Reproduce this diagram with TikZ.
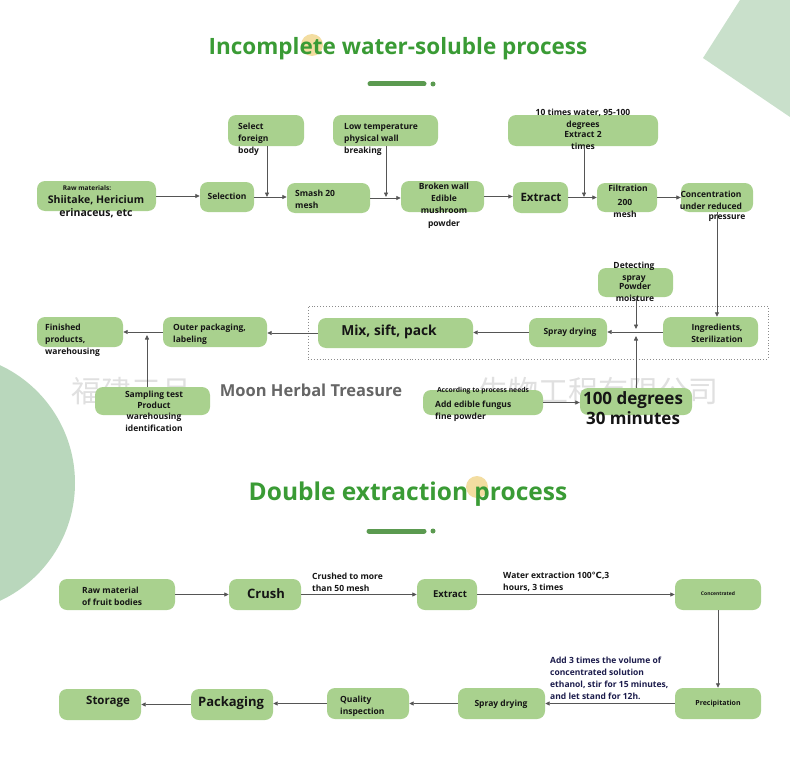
\documentclass[tikz,border=0pt]{standalone}
\usepackage{fontspec}
\setmainfont{Open Sans}
\newfontfamily\cjkfont{Noto Sans CJK SC}
\newfontfamily\symfont{DejaVu Sans}
\usetikzlibrary{arrows.meta}
\definecolor{boxgreen}{HTML}{A9D18E}
\definecolor{titlegreen}{HTML}{3A9B35}
\definecolor{bargreen}{HTML}{5B9A50}
\definecolor{sagelight}{HTML}{C9E0CB}
\definecolor{sagedark}{HTML}{B9D7BC}
\definecolor{sunyellow}{HTML}{F0D48A}
\definecolor{linegray}{HTML}{555555}
\definecolor{inkblack}{HTML}{151515}
\definecolor{inknavy}{HTML}{1C1C4C}
\begin{document}
\begin{tikzpicture}[
  x=1pt, y=-1pt,
  step_box/.style={
    fill=boxgreen,
    rounded corners=8pt,
    inner sep=0pt
  },
  step_text/.style={
    inner sep=0pt,
    text=inkblack,
    align=center,
    font=\bfseries\fontsize{8.5}{12}\selectfont
  },
  step_text_left/.style={
    step_text,
    align=left,
    anchor=west
  },
  flow_arrow/.style={
    draw=linegray,
    line width=0.8pt,
    -{Triangle[length=4.5pt,width=4pt]}
  },
  title/.style={
    text=titlegreen,
    font=\bfseries\fontsize{22.5}{26}\selectfont
  },
  water_mark/.style={
    text=black!12,
    font=\cjkfont\fontsize{30}{32}\selectfont
  }
]%
\clip (0,0) rectangle (790,768);
\useasboundingbox (0,0) rectangle (790,768);
\fill[sagedark] (-55,483) circle (130);
\fill[sagelight] (740,0) -- (790,0) -- (790,117) -- (703,58) -- cycle;
\node[water_mark, anchor=west] (wm_left) at (68,391) {福建三月};
\node[water_mark, anchor=east] (wm_right) at (722,391) {生物工程有限公司};

% titles
\fill[sunyellow, opacity=0.8] (312,45) circle (11);
\node[title] (title_one) at (398,49) {Incomplete water-soluble process};
\draw[bargreen, line width=5pt, line cap=round] (370,84) -- (424,84);
\fill[bargreen] (433,84) circle (2.5);
\fill[sunyellow, opacity=0.8] (477,487) circle (11);
\node[title, font=\bfseries\fontsize{24.5}{28}\selectfont] (title_two) at (408,494) {Double extraction process};
\draw[bargreen, line width=5pt, line cap=round] (369,531) -- (424,531);
\fill[bargreen] (433,531) circle (2.5);

% incomplete water-soluble process
\node[step_box, minimum width=119, minimum height=30] (raw) at (96.5,196) {};
\node[step_box, minimum width=54, minimum height=30] (sel) at (227,197) {};
\node[step_box, minimum width=76, minimum height=31] (foreign) at (266,130.5) {};
\node[step_box, minimum width=83, minimum height=30] (smash) at (328.5,198) {};
\node[step_box, minimum width=105, minimum height=31] (lowtemp) at (385.5,130.5) {};
\node[step_box, minimum width=83, minimum height=31] (broken) at (442.5,196.5) {};
\node[step_box, minimum width=55, minimum height=31] (extract) at (540.5,197.5) {};
\node[step_box, minimum width=150, minimum height=31] (tenwater) at (583,130.5) {};
\node[step_box, minimum width=60, minimum height=29] (filt) at (627,197.5) {};
\node[step_box, minimum width=72, minimum height=29] (conc) at (717,197.5) {};

\node[step_text, font=\bfseries\fontsize{6.5}{8}\selectfont] (raw_head) at (87,188) {Raw materials:};
\node[step_text, font=\bfseries\fontsize{10.5}{13}\selectfont] (raw_t) at (96,206.5) {Shiitake, Hericium\\erinaceus, etc};
\node[step_text] (sel_t) at (227,196) {Selection};
\node[step_text_left] (foreign_t) at (238,139) {Select\\foreign\\body};
\node[step_text_left] (smash_t) at (295,199.5) {Smash 20\\mesh};
\node[step_text_left] (lowtemp_t) at (344,139) {Low temperature\\physical wall\\breaking};
\node[step_text, font=\bfseries\fontsize{8.5}{12.3}\selectfont] (broken_t) at (444,205.5) {Broken wall\\Edible\\mushroom\\powder};
\node[step_text, font=\bfseries\fontsize{11.5}{13}\selectfont] (extract_t) at (541,197) {Extract};
\node[step_text] (tenwater_t) at (583,119.5) {10 times water, 95-100\\degrees};
\node[step_text] (twice_t) at (583,140) {Extract 2\\times};
\node[step_text] (filt_t) at (628,188) {Filtration};
\node[step_text] (mesh_t) at (625,208.5) {200\\mesh};
\node[step_text] (conc_t) at (711,200) {Concentration\\under reduced};
\node[step_text] (press_t) at (727,218) {pressure};

\coordinate (j_foreign) at (267,197);
\coordinate (j_lowtemp) at (386,197);
\coordinate (j_tenwater) at (584,197);
\draw[flow_arrow] (raw.east) -- (raw.east -| sel.west);
\draw[flow_arrow] (sel.east) -- (sel.east -| smash.west);
\draw[flow_arrow] (foreign.south -| j_foreign) -- (j_foreign);
\draw[flow_arrow] (smash.east) -- (smash.east -| broken.west);
\draw[flow_arrow] (lowtemp.south -| j_lowtemp) -- (j_lowtemp);
\draw[flow_arrow] (broken.east) -- (broken.east -| extract.west);
\draw[flow_arrow] (extract.east) -- (extract.east -| filt.west);
\draw[flow_arrow] (tenwater.south -| j_tenwater) -- (j_tenwater);
\draw[flow_arrow] (filt.east) -- (conc.west);

% drying line
\node[draw=black!45, dotted, line width=0.9pt, minimum width=460, minimum height=53, inner sep=0pt] (group) at (538,332.5) {};
\node[step_box, minimum width=95, minimum height=30] (ingr) at (710.5,332) {};
\node[step_box, minimum width=78, minimum height=29] (spray) at (568,332.5) {};
\node[step_box, minimum width=155, minimum height=30] (mix) at (395.5,333) {};
\node[step_box, minimum width=104, minimum height=30] (outer) at (215,332) {};
\node[step_box, minimum width=86, minimum height=30] (finished) at (80,332) {};
\node[step_box, minimum width=75, minimum height=29] (detect) at (635.5,282.5) {};
\node[step_box, minimum width=112, minimum height=27] (hundred) at (636,401.5) {};
\node[step_box, minimum width=120, minimum height=25] (addp) at (483,402.5) {};
\node[step_box, minimum width=115, minimum height=28] (sampling) at (152.5,401) {};

\node[step_text] (ingr_t) at (717,333.5) {Ingredients,\\Sterilization};
\node[step_text] (spray_t) at (570,332) {Spray drying};
\node[step_text, font=\bfseries\fontsize{13.8}{16}\selectfont] (mix_t) at (389,332) {Mix, sift, pack};
\node[step_text_left] (outer_t) at (173,334) {Outer packaging,\\labeling};
\node[step_text_left] (finished_t) at (45,340) {Finished\\products,\\warehousing};
\node[step_text] (detect_t) at (634,272) {Detecting\\spray};
\node[step_text] (moist_t) at (635,292) {Powder\\moisture};
\node[step_text, font=\bfseries\fontsize{17}{20}\selectfont] (hundred_t) at (633,408) {100 degrees\\30 minutes};
\node[step_text, font=\bfseries\fontsize{6.8}{8}\selectfont] (needs_t) at (483,390.5) {According to process needs};
\node[step_text_left] (addp_t) at (435,411.5) {Add edible fungus\\fine powder};
\node[step_text, font=\bfseries\fontsize{8.5}{11.4}\selectfont] (sampling_t) at (154,411) {Sampling test\\Product\\warehousing\\identification};
\node[text=black!60, fill=white, inner sep=1pt, font=\bfseries\fontsize{16.5}{18}\selectfont] (brand) at (311,390) {Moon Herbal Treasure};

\coordinate (j_detect) at (636,329);
\coordinate (j_hundred) at (636,336);
\coordinate (j_sampling) at (147,335);
\draw[flow_arrow] (conc.south) -- (conc.south |- ingr.north);
\draw[flow_arrow] (ingr.west) -- (ingr.west -| spray.east);
\draw[flow_arrow] (detect.south -| j_detect) -- (j_detect);
\draw[flow_arrow] (hundred.north -| j_hundred) -- (j_hundred);
\draw[flow_arrow] (addp.east) -- (addp.east -| hundred.west);
\draw[flow_arrow] (spray.west) -- (spray.west -| mix.east);
\draw[flow_arrow] (mix.west) -- (mix.west -| outer.east);
\draw[flow_arrow] (outer.west) -- (outer.west -| finished.east);
\draw[flow_arrow] (sampling.north -| j_sampling) -- (j_sampling);

% double extraction process
\node[step_box, minimum width=116, minimum height=31] (rawfruit) at (117,594.5) {};
\node[step_box, minimum width=72, minimum height=31] (crush) at (265,594.5) {};
\node[step_box, minimum width=60, minimum height=31] (extract_two) at (447,594.5) {};
\node[step_box, minimum width=86, minimum height=31] (concd) at (718,594.5) {};
\node[step_box, minimum width=86, minimum height=31] (precip) at (718,703.5) {};
\node[step_box, minimum width=87, minimum height=31] (spray_two) at (501.5,703.5) {};
\node[step_box, minimum width=82, minimum height=31] (quality) at (368,703.5) {};
\node[step_box, minimum width=82, minimum height=31] (packaging) at (232,704.5) {};
\node[step_box, minimum width=82, minimum height=31] (storage) at (100,704.5) {};

\node[step_text_left] (rawfruit_t) at (82,596) {Raw material\\of fruit bodies};
\node[step_text, font=\bfseries\fontsize{13}{15}\selectfont] (crush_t) at (266,594) {Crush};
\node[step_text_left] (crushed_t) at (312,582) {Crushed to more\\than 50 mesh};
\node[step_text, font=\bfseries\fontsize{9.5}{12}\selectfont] (extract_two_t) at (450,594) {Extract};
\node[step_text_left] (waterx_t) at (503,582) {Water extraction 100{\symfont ℃},3\\hours, 3 times};
\node[step_text, font=\bfseries\fontsize{5}{6}\selectfont] (concd_t) at (718,594) {Concentrated};
\node[step_text_left, text=inknavy, fill=white, inner sep=1pt] (ethanol_t) at (549,678) {Add 3 times the volume of\\concentrated solution\\ethanol, stir for 15 minutes,\\and let stand for 12h.};
\node[step_text, font=\bfseries\fontsize{7}{8}\selectfont] (precip_t) at (718,704) {Precipitation};
\node[step_text] (spray_two_t) at (501,704) {Spray drying};
\node[step_text_left] (quality_t) at (340,706) {Quality\\inspection};
\node[step_text, font=\bfseries\fontsize{13}{15}\selectfont] (packaging_t) at (231,703) {Packaging};
\node[step_text, font=\bfseries\fontsize{11.5}{13}\selectfont] (storage_t) at (108,702) {Storage};

\draw[flow_arrow] (rawfruit.east) -- (crush.west);
\draw[flow_arrow] (crush.east) -- (extract_two.west);
\draw[flow_arrow] (extract_two.east) -- (concd.west);
\draw[flow_arrow] (concd.south) -- (precip.north);
\draw[flow_arrow] (precip.west) -- (spray_two.east);
\draw[flow_arrow] (spray_two.west) -- (quality.east);
\draw[flow_arrow] (quality.west) -- (quality.west -| packaging.east);
\draw[flow_arrow] (packaging.west) -- (storage.east);
\end{tikzpicture}
\end{document}
